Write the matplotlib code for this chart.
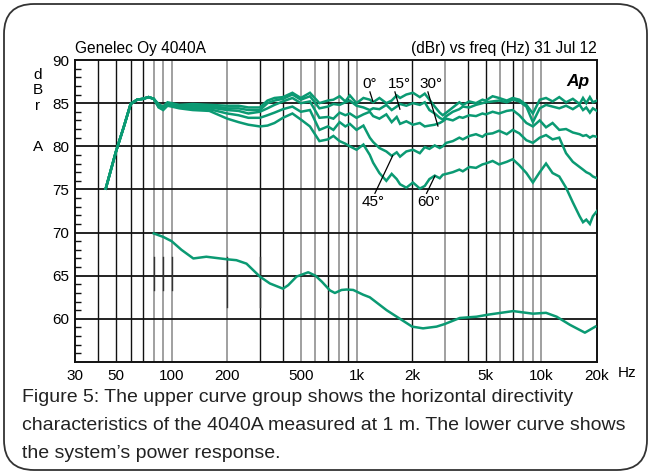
import numpy as np
import matplotlib
matplotlib.use("Agg")
import matplotlib.pyplot as plt
from matplotlib.patches import FancyBboxPatch
from matplotlib.transforms import IdentityTransform

plt.rcParams['font.family'] = ['Liberation Sans', 'DejaVu Sans']

# Directivity curves (dBr)
freq_up = [44, 50, 55, 60, 65, 70, 75, 80, 85, 90, 95, 100, 110,
           130, 160, 200, 230, 260, 300, 330, 360, 400, 450, 500, 560,
           630, 700, 750, 810, 870, 920, 1000, 1090, 1180, 1230, 1330, 1450,
           1550, 1650, 1720, 1860, 2020, 2200, 2340, 2480, 2650, 2820, 2930,
           3060, 3320, 3600, 3760, 4080, 4430, 4800, 5000, 5450, 5900, 6500,
           7000, 7600, 8300, 9000, 9800, 10600, 11500, 12500, 13600, 14800,
           16100, 16800, 17500, 18300, 19000, 20000]

rise = [75.1, 79.4, 82.2, 84.9, 85.4, 85.5, 85.7, 85.5]

deg0 = rise + [84.9, 84.6, 85.1, 85.0, 84.8,
               84.9, 84.8, 84.7, 84.7, 84.5, 84.5, 85.3, 85.6, 85.7, 86.2, 85.6, 86.2,
               85.0, 85.3, 85.4, 85.8, 85.2, 85.9, 85.0, 85.6, 85.4, 85.1, 85.6, 85.0,
               85.3, 85.9, 85.6, 86.0, 86.2, 85.7, 86.1, 85.4, 84.6, 83.9, 83.6,
               83.9, 84.5, 85.1, 84.8, 85.2, 85.0, 85.4, 85.3, 85.8, 85.6, 85.3,
               85.6, 85.4, 84.8, 83.8, 85.4, 85.6, 85.2, 85.7, 85.1, 85.5,
               84.9, 85.6, 85.0, 85.7, 85.1, 85.3]
deg15 = rise + [84.7, 84.5, 85.0, 84.9, 84.7,
                84.7, 84.7, 84.4, 84.4, 84.2, 84.2, 85.0, 85.3, 85.5, 86.0, 85.4, 85.8,
                84.4, 84.6, 84.9, 84.8, 85.1, 85.3, 84.7, 84.5, 84.2, 84.4, 84.3, 84.8,
                84.2, 84.6, 84.9, 84.7, 85.0, 84.8, 85.1, 84.2, 83.8, 83.3, 83.1,
                83.5, 84.0, 84.3, 84.6, 84.5, 84.8, 85.0, 85.1, 85.2, 85.3, 85.1,
                85.4, 85.2, 84.6, 82.8, 84.4, 84.8, 84.6, 84.4, 84.7, 84.3,
                84.8, 84.2, 84.5, 83.9, 84.4, 84.1]
deg30 = rise + [84.6, 84.4, 84.9, 84.8, 84.6,
                84.6, 84.5, 84.2, 84.1, 83.8, 84.0, 84.4, 84.8, 85.2, 85.6, 85.0, 85.2,
                83.3, 83.4, 83.2, 83.9, 83.6, 83.8, 83.3, 83.7, 84.0, 83.5, 83.2, 83.7,
                82.8, 83.4, 82.6, 82.9, 82.5, 82.7, 82.3, 82.4, 82.5, 82.7, 82.9,
                83.2, 83.0, 83.4, 83.3, 83.6, 83.5, 83.8, 83.7, 84.0, 83.8, 84.1,
                84.2, 83.6, 82.7, 82.3, 83.0, 82.2, 82.7, 81.9, 82.0, 81.6,
                81.4, 81.2, 81.3, 81.0, 81.2, 81.1]
deg45 = rise + [84.6, 84.3, 84.8, 84.7, 84.5,
                84.4, 84.3, 83.8, 83.6, 83.3, 83.3, 83.6, 83.9, 84.3, 84.6, 84.0, 84.2,
                81.9, 82.3, 81.9, 82.8, 82.3, 82.6, 81.9, 82.4, 81.0, 80.5, 79.8, 79.4,
                78.9, 79.3, 78.8, 79.4, 79.6, 79.2, 79.9, 79.7, 80.1, 79.8, 80.0,
                80.4, 80.6, 81.0, 80.8, 81.2, 81.4, 81.1, 81.4, 81.5, 81.8, 81.4,
                81.9, 81.5, 80.7, 80.4, 81.0, 81.3, 80.8, 81.0, 79.2, 78.2,
                77.6, 77.3, 77.0, 76.8, 76.5, 76.3]
deg60 = rise + [84.5, 84.2, 84.7, 84.6, 84.4,
                84.2, 84.1, 83.2, 82.8, 82.5, 82.3, 82.4, 82.7, 83.3, 83.8, 83.1, 82.3,
                80.6, 80.8, 81.2, 80.6, 80.3, 80.0, 79.6, 80.2, 79.0, 78.1, 76.9, 76.0,
                76.8, 76.2, 75.6, 75.2, 75.8, 75.1, 75.4, 76.2, 76.6, 76.3, 76.7,
                76.8, 77.0, 77.3, 77.1, 77.6, 77.5, 77.9, 78.0, 78.3, 77.9, 78.2,
                78.5, 77.8, 76.9, 75.8, 77.0, 78.0, 76.9, 76.5, 75.2, 73.5,
                71.9, 71.2, 71.5, 71.0, 71.9, 72.5]

# Power response (lower curve)
freq_pw = [80, 90, 100, 113, 131, 154, 200, 224, 254, 300, 340, 400, 427, 474,
           548, 600, 650, 718, 764, 830, 884, 960, 1086, 1180, 1456, 1650, 2000,
           2290, 2710, 3000, 3620, 4460, 5200, 7040, 9000, 10600, 12100, 14300,
           17200, 19600]
power = [69.9, 69.5, 69.0, 68.0, 67.0, 67.2, 66.9, 66.8, 66.4, 64.9, 64.1, 63.5,
         63.9, 64.9, 65.4, 65.0, 64.3, 63.3, 63.0, 63.35, 63.4, 63.35, 62.8, 62.5,
         61.0, 60.25, 59.1, 58.9, 59.1, 59.4, 60.1, 60.25, 60.5, 60.9, 60.6, 60.7,
         60.25, 59.3, 58.4, 59.1]

xticks = [30, 50, 100, 200, 500, 1000, 2000, 5000, 10000, 20000]
xlabels = ['30', '50', '100', '200', '500', '1k', '2k', '5k', '10k', '20k']
grid_black = [40, 50, 60, 70, 300, 400, 700, 900, 2000, 4000, 5000, 7000]
grid_gray = [80, 90, 100, 200, 500, 600, 800, 1000, 3000, 6000, 8000, 9000, 10000]

green = '#0b9a73'

fig = plt.figure(figsize=(6.51, 4.74), dpi=100)
fig.patch.set_facecolor('white')
ax = fig.add_axes([75 / 651, 1 - 362 / 474, 522 / 651, 302 / 474])
ax.set_xscale('log')
ax.set_xlim(30, 20000)
ax.set_ylim(55, 90)

for f in grid_black:
    ax.axvline(f, color='#111111', lw=1.0, zorder=1)
for f in grid_gray:
    ax.axvline(f, color='#a0a0a0', lw=1.4, zorder=1)
for f in [80, 90, 100]:
    ax.plot([f, f], [63.3, 67.2], color='#333333', lw=1.0, zorder=1.5)
for f in [200, 300]:
    ax.plot([f, f], [61.4, 67.2], color='#333333', lw=1.0, zorder=1.5)
for y in [60, 65, 70, 75, 80, 85]:
    ax.axhline(y, color='#111111', lw=1.3, zorder=1)

for curve in [deg0, deg15, deg30, deg45, deg60]:
    ax.plot(freq_up, curve, color=green, lw=1.8, zorder=3, solid_joinstyle='miter')
ax.plot(freq_pw, power, color=green, lw=1.8, zorder=3)

for s in ax.spines.values():
    s.set_linewidth(1.4)
    s.set_color('#111111')

ax.set_xticks(xticks)
ax.set_xticklabels(xlabels)
ax.xaxis.set_minor_locator(matplotlib.ticker.NullLocator())
ax.tick_params(axis='x', length=0, pad=5, labelsize=11)
ax.set_yticks([60, 65, 70, 75, 80, 85, 90])
ax.set_yticks(np.arange(56, 90, 1), minor=True)
ax.tick_params(axis='y', which='major', length=0, pad=4, labelsize=11)
ax.tick_params(axis='y', which='minor', direction='in', length=4, width=1, color='#111111')

# angle labels with leader lines
labels = [('0°', (1182, 87.2), (1227, 85.2), (1182, 86.3)),
          ('15°', (1696, 87.2), (1717, 84.3), (1614, 86.3)),
          ('30°', (2542, 87.2), (2757, 82.35), (2434, 86.3)),
          ('45°', (1234, 73.5), (1569, 78.9), (1258, 74.55)),
          ('60°', (2448, 73.5), (2655, 76.55), (2394, 74.55))]
for txt, pos, end, start in labels:
    ax.text(pos[0], pos[1], txt, ha='center', va='center', fontsize=11, zorder=4)
    ax.plot([start[0], end[0]], [start[1], end[1]], color='black', lw=0.9, zorder=4)

ax.text(0.985, 0.955, 'Ap', transform=ax.transAxes, ha='right', va='top',
        fontsize=12.5, fontweight='bold', style='italic')

fig.text(75 / 651, 1 - 48 / 474, 'Genelec Oy 4040A', ha='left', va='center', fontsize=11.2)
fig.text(597 / 651, 1 - 48 / 474, '(dBr) vs freq (Hz) 31 Jul 12', ha='right', va='center', fontsize=11.2)
fig.text(627 / 651, 1 - 373 / 474, 'Hz', ha='center', va='center', fontsize=11)
for ch, yy in [('d', 75), ('B', 90), ('r', 106), ('A', 147)]:
    fig.text(38 / 651, 1 - yy / 474, ch, ha='center', va='center', fontsize=11)

caption = ["Figure 5: The upper curve group shows the horizontal directivity",
           "characteristics of the 4040A measured at 1 m. The lower curve shows",
           "the system\u2019s power response."]
for line, yy in zip(caption, [397, 426, 454]):
    fig.text(22 / 651, 1 - yy / 474, line, ha='left', va='center', fontsize=14, color='#222222')

frame = FancyBboxPatch((4, 4), 643, 466, boxstyle='round,pad=0,rounding_size=30',
                       transform=IdentityTransform(), fill=False, edgecolor='#333333', lw=1.3)
fig.patches.append(frame)

fig.savefig('out.png', dpi=100)
